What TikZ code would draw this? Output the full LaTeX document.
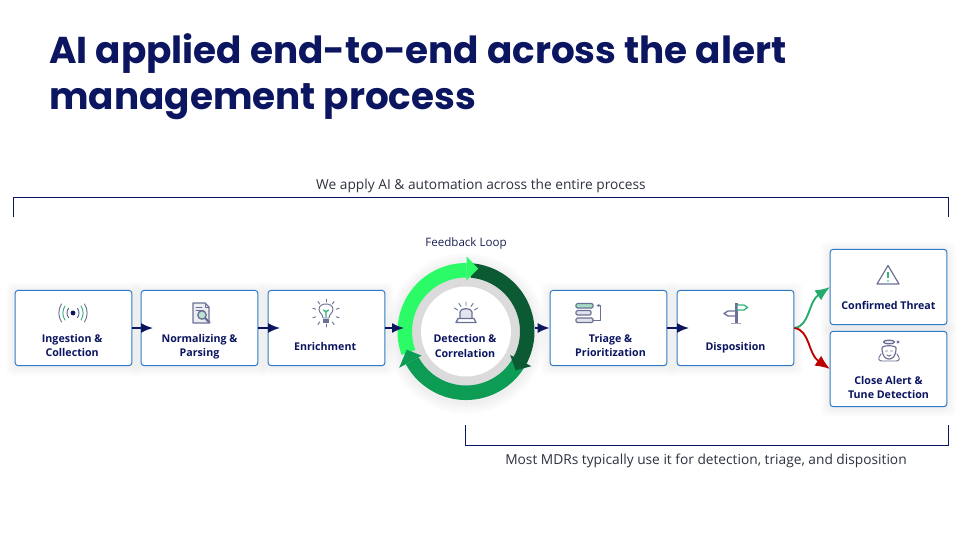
\documentclass[tikz,border=0pt]{standalone}
\usepackage{fontspec}
\setmainfont{Open Sans}
\newfontfamily\ttlfont{Poppins}
\usetikzlibrary{arrows.meta}
\definecolor{navy}{HTML}{0B1560}
\definecolor{inkdark}{HTML}{1A2352}
\definecolor{bluebd}{HTML}{2F7BC4}
\definecolor{icong}{HTML}{6B7196}
\definecolor{icgreen}{HTML}{35B57A}
\definecolor{brg}{HTML}{2CFB68}
\definecolor{drg}{HTML}{0B5A34}
\definecolor{mdg}{HTML}{0C9C54}
\definecolor{txt}{HTML}{2E3240}
\newcommand{\stepfont}{\fontsize{8}{10.6}\selectfont\bfseries\color{navy}}
\newcommand{\boxt}[2]{\parbox[c][56pt][t]{86pt}{\centering\stepfont\vspace*{#1}#2}}
\tikzset{
  x=.75pt,y=-.75pt,
  stepbox/.style={draw=bluebd,fill=white,line width=.75pt,rounded corners=2.2pt,inner sep=0pt,
     minimum width=87.5pt,minimum height=56.5pt,anchor=center},
  flow/.style={draw=navy,line width=1.3pt,-{Latex[length=9pt,width=7.5pt]}},
  brk/.style={draw=navy,line width=.6pt},
  note/.style={font=\fontsize{10.3}{12}\selectfont,text=txt,inner sep=0pt},
  ic/.style={draw=icong,line width=.7pt,line cap=round,line join=round},
  icg/.style={draw=icgreen,line width=.7pt,line cap=round,line join=round},
}
\begin{document}
\begin{tikzpicture}
\useasboundingbox (0,0) rectangle (960,540);
\fill[white] (0,0) rectangle (960,540);
% title
\node[anchor=base west,inner sep=0pt,font=\ttlfont\fontsize{28}{34}\selectfont\bfseries,text=navy] (t1) at (49,63) {AI applied end-to-end across the alert};
\node[anchor=base west,inner sep=0pt,font=\ttlfont\fontsize{28}{34}\selectfont\bfseries,text=navy] (t2) at (49,109) {management process};
% brackets
\node[note] (topnote) at (481,185.5) {We apply AI \& automation across the entire process};
\coordinate (ta) at (13.5,217); \coordinate (tb) at (948,217);
\draw[brk] (ta) -- (13.5,197) -- (948,197) -- (tb);
\node[note] (botnote) at (706,461) {Most MDRs typically use it for detection, triage, and disposition};
\coordinate (ba) at (465.5,425); \coordinate (bb) at (948,425);
\draw[brk] (ba) -- (465.5,445) -- (948,445) -- (bb);
\node[inner sep=0pt,font=\fontsize{8.7}{10}\selectfont,text=inkdark] (fb) at (466,243) {Feedback Loop};
% shadows
\foreach \cx/\cy in {73.5/328,199.5/328,326.5/328,608.5/328,735.5/328,888.5/287,888.5/369}{
  \foreach \g in {9,7,5,3,1}{
    \fill[black,opacity=.012,rounded corners=4pt] (\cx-58.5-\g,\cy-37.5-\g+1) rectangle (\cx+58.5+\g,\cy+37.5+\g+1);
  }
}
% boxes
\node[stepbox] (b1) at (73.5,328) {\boxt{32.8pt}{\hspace*{-2pt}Ingestion \&\\\hspace*{-2pt}Collection}};
\node[stepbox] (b2) at (199.5,328) {\boxt{32.8pt}{Normalizing \&\\Parsing}};
\node[stepbox] (b3) at (326.5,328) {\boxt{39pt}{\hspace*{-2pt}Enrichment}};
\node[stepbox] (b4) at (608.5,328) {\boxt{32.8pt}{\hspace*{3pt}Triage \&\\\hspace*{3pt}Prioritization}};
\node[stepbox] (b5) at (735.5,328) {\boxt{39pt}{Disposition}};
\node[stepbox] (b6) at (888.5,287) {\boxt{39pt}{Confirmed Threat}};
\node[stepbox] (b7) at (888.5,369) {\boxt{33.3pt}{Close Alert \&\\Tune Detection}};
% ring
\begin{scope}[shift={(466,331.5)},x=.75pt,y=.75pt]
  \foreach \g in {80,77,74,71}{\fill[black,opacity=.015] (0,-2) circle (\g);}
  \fill[black!14] (0,0) circle (60);
  \fill[mdg] (-25:68.5) arc[start angle=-25,end angle=-151.5,radius=68.5] -- (-151.5:54) arc[start angle=-151.5,end angle=-25,radius=54] -- cycle;
  \fill[drg] (85:68.5) arc[start angle=85,end angle=-28,radius=68.5] -- (-28:54) arc[start angle=-28,end angle=85,radius=54] -- cycle;
  \fill[brg] (200:68.5) arc[start angle=200,end angle=89.5,radius=68.5] -- (89.5:54) arc[start angle=89.5,end angle=200,radius=54] -- cycle;
  \fill[brg] (89.5:75) -- (79:64) -- (89.5:51) -- cycle;
  \fill[drg] (-28:74) -- (-38:63) -- (-28:50) -- cycle;
  \fill[mdg] (208.5:76) -- (197:62) -- (208.5:50.5) -- cycle;
\end{scope}
\node[circle,fill=white,minimum size=67.5pt,inner sep=0pt] (ring) at (466,331.5) {};
\node[inner sep=0pt,align=center,font=\stepfont] (ringt) at (465,346) {Detection \&\\Correlation};
\coordinate (ringin) at (404,328);
\coordinate (ringout) at (535,328);
% connectors
\draw[flow] (b1.east) -- (153,328);
\draw[flow] (b2.east) -- (280,328);
\draw[flow] (b3.east) -- (ringin);
\draw[flow] (ringout) -- (b4.west);
\draw[flow] (b4.east) -- (689,328);
\coordinate (gtip) at (830,287);
\coordinate (rtip) at (830,369);
\draw[draw=icgreen!60!mdg,line width=1.4pt,-{Latex[length=11pt,width=9pt]}] (b5.east) .. controls (810,326) and (808,302) .. (gtip);
\draw[draw=red!75!black,line width=1.4pt,-{Latex[length=11pt,width=9pt]}] (b5.east) .. controls (810,330) and (808,354) .. (rtip);
% icon: signal
\begin{scope}[shift={(73,313)}]
  \fill[navy] (0,0) circle (2.4);
  \foreach \s in {1,-1}{
    \begin{scope}[xscale=\s]
      \draw[ic,draw=navy!70] (4.5,-4.5) .. controls (6.5,-2) and (6.5,2) .. (4.5,4.5);
      \draw[icg] (8,-7) .. controls (10.8,-3) and (10.8,3) .. (8,7);
      \draw[ic] (11.5,-9) .. controls (15,-4) and (15,4) .. (11.5,9);
    \end{scope}
  }
\end{scope}
% icon: document + magnifier
\begin{scope}[shift={(201,313)}]
  \draw[ic,line width=.9pt,fill=icong!12] (-8,-10) -- (4,-10) -- (8,-6) -- (8,10) -- (-8,10) -- cycle;
  \draw[ic] (4,-10) -- (4,-6) -- (8,-6);
  \draw[ic] (-5,-6) -- (1,-6) (-5,-3) -- (3,-3);
  \draw[ic,line width=1pt,fill=icgreen!35] (1,2) circle (4.2);
  \draw[ic,line width=1.6pt] (4,5) -- (8.5,9.5);
\end{scope}
% icon: bulb
\begin{scope}[shift={(326,313)}]
  \draw[ic,fill=white] (-3,5) .. controls (-3,1) and (-7,0) .. (-7,-3.5) .. controls (-7,-7.5) and (-3.5,-9) .. (0,-9) .. controls (3.5,-9) and (7,-7.5) .. (7,-3.5) .. controls (7,0) and (3,1) .. (3,5) -- cycle;
  \fill[icong] (-3,6) rectangle (3,10);
  \draw[icg,line width=1pt] (0,4) -- (0,-2) (-2.5,-3) -- (0,-1) -- (2.5,-3);
  \foreach \a in {-70,-35,0,35,70,-110,-145,-180,145,110}{
    \draw[ic] (90+\a:11) -- (90+\a:14);
  }
\end{scope}
% icon: alarm
\begin{scope}[shift={(466,313)}]
  \fill[icong!18] (-6,5) -- (-6,-1) .. controls (-6,-5.5) and (6,-5.5) .. (6,-1) -- (6,5) -- cycle;
  \draw[ic,line width=.9pt] (-6,5) -- (-6,-1) .. controls (-6,-5.5) and (6,-5.5) .. (6,-1) -- (6,5);
  \draw[ic,line width=1pt] (-8,5.5) -- (8,5.5) -- (10,9.5) -- (-10,9.5) -- cycle;
  \draw[ic] (0,-7.5) -- (0,-11) (-5,-6.5) -- (-7,-9.5) (5,-6.5) -- (7,-9.5) (-8.5,-3) -- (-11.5,-5) (8.5,-3) -- (11.5,-5);
\end{scope}
% icon: list
\begin{scope}[shift={(588,313)}]
  \draw[ic,line width=.9pt,fill=icgreen!45,rounded corners=1pt] (-12,-9.5) rectangle (5,-5);
  \draw[ic,line width=.9pt,fill=icong!20,rounded corners=1pt] (-12,-2.5) rectangle (3,2);
  \draw[ic,line width=.9pt,fill=icong!20,rounded corners=1pt] (-12,5) rectangle (5,9.5);
  \draw[ic,-{Latex[length=2.5pt,width=2.5pt]}] (5,7) -- (12,7) -- (12,-7.5) -- (8,-7.5);
\end{scope}
% icon: signpost
\begin{scope}[shift={(736,313)}]
  \fill[icong] (-1.5,-10.5) rectangle (1.5,10.5);
  \fill[icong!60] (-5,10) rectangle (5,11);
  \draw[icg,line width=1pt,fill=white] (1.5,-8) -- (8,-8) -- (11.5,-5.5) -- (8,-3) -- (1.5,-3);
  \draw[ic,line width=1pt,fill=white] (-1.5,-2) -- (-8,-2) -- (-12,0.5) -- (-8,3) -- (-1.5,3);
\end{scope}
% icon: warning
\begin{scope}[shift={(888,275)}]
  \draw[ic,line width=.9pt] (0,-9.5) -- (11,9) -- (-11,9) -- cycle;
  \draw[draw=icgreen,line width=1.2pt] (0,-3) -- (0,3);
  \fill[icgreen] (0,6) circle (.8);
\end{scope}
% icon: face
\begin{scope}[shift={(889,351)}]
  \draw[ic,line width=.9pt,fill=white] (-7,-3) .. controls (-7,6) and (-3,8) .. (0,8) .. controls (3,8) and (7,6) .. (7,-3) .. controls (7,-6) and (-7,-6) .. (-7,-3);
  \draw[ic] (-8,3) .. controls (-12,8) and (-10,10) .. (-7,10) -- (7,10) .. controls (10,10) and (12,8) .. (8,3);
  \draw[ic,line width=.9pt,fill=icong!15] (-5.5,-9) .. controls (-5.5,-11.5) and (5.5,-11.5) .. (5.5,-9) .. controls (5.5,-6.5) and (-5.5,-6.5) .. (-5.5,-9) -- cycle;
  \draw[ic] (-3.5,0) -- (-1.5,0) (1.5,0) -- (3.5,0) (-2,4) .. controls (-1,5.5) and (1,5.5) .. (2,4);
  \draw[ic] (8,-10) -- (10,-8) (10,-10) -- (8,-8);
\end{scope}
\end{tikzpicture}
\end{document}
